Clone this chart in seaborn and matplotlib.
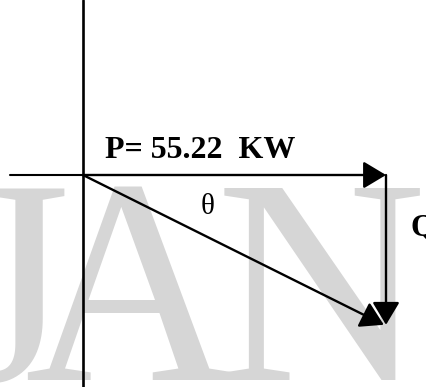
import numpy as np
import pandas as pd
import seaborn as sns
import matplotlib
matplotlib.use('Agg')
import matplotlib.pyplot as plt

# Данные треугольника мощностей
P_kw = 55.22          # активная мощность
Q_kvar = 27.3         # реактивная мощность (оценка по рисунку)
p_label = 'P= 55.22  KW'
q_label = 'Q'
theta_label = 'θ'
watermark = ['J', 'A', 'N']

W, H = 426, 387
px = 303 / P_kw       # пикселей на единицу
ox, oy = 83, 175      # начало координат в пикселях

sns.set_theme(style='white')
plt.rcParams['font.family'] = ['Liberation Serif', 'DejaVu Serif']
plt.rcParams['text.color'] = 'black'

fig = plt.figure(figsize=(W / 100, H / 100), dpi=100)
ax = fig.add_axes([0, 0, 1, 1])
ax.set_xlim(-ox / px, (W - ox) / px)
ax.set_ylim(-(H - oy) / px, oy / px)
ax.axis('off')

# Водяной знак (под линиями)
wm_x = [-43, 24, 216]
for ch, x in zip(watermark, wm_x):
    ax.text(x / W, 1 - 380 / H, ch, fontsize=210, color='#d6d6d6',
            ha='left', va='baseline', transform=ax.transAxes, zorder=0.5)

# Оси
axes_df = pd.DataFrame({'x': [0, 0], 'y': [ax.get_ylim()[0], ax.get_ylim()[1]]})
sns.lineplot(data=axes_df, x='x', y='y', color='black', lw=1.9, ax=ax,
             estimator=None, sort=False, zorder=2)
stub = pd.DataFrame({'x': [-(ox - 10) / px, 0], 'y': [0, 0]})
sns.lineplot(data=stub, x='x', y='y', color='black', lw=1.5, ax=ax,
             estimator=None, sort=False, zorder=2)

# Векторы
arrow = dict(arrowstyle='-|>,head_length=0.7,head_width=0.42', mutation_scale=20,
             color='black', lw=1.7, shrinkA=0, shrinkB=0)
ax.annotate('', xy=(P_kw, 0), xytext=(0, 0), arrowprops=arrow, zorder=3)
ax.annotate('', xy=(P_kw, -Q_kvar), xytext=(P_kw, 0), arrowprops=arrow, zorder=3)
ax.annotate('', xy=(P_kw - 0.4, -Q_kvar), xytext=(0, 0), arrowprops=arrow, zorder=3)

# Подписи
ax.text((105 - ox) / px, (oy - 158) / px, p_label, fontsize=23,
        fontweight='bold', ha='left', va='baseline', zorder=4)
ax.text((208 - ox) / px, (oy - 207) / px, theta_label, fontsize=21,
        ha='center', va='center', zorder=4)
ax.text((410 - ox) / px, (oy - 235) / px, q_label, fontsize=23,
        fontweight='bold', ha='left', va='baseline', zorder=4)

fig.savefig('out.png', dpi=100)
